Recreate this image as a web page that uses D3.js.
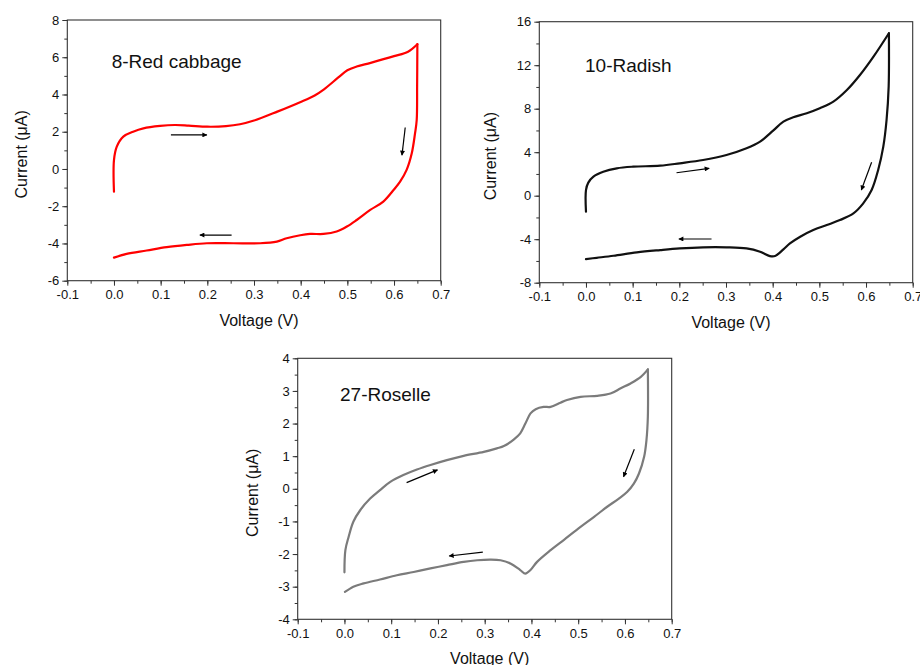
<!DOCTYPE html>
<html>
<head>
<meta charset="utf-8">
<script src="https://cdn.jsdelivr.net/npm/d3@7"></script>
<style>
  html, body { margin: 0; padding: 0; background: #fff; }
  svg { display: block; font-family: "Liberation Sans", Arial, sans-serif; }
</style>
</head>
<body>
<svg id="chart" width="920" height="665"></svg>
<script>
// Cyclic voltammograms, [voltage (V), current (µA)] along the scan
const redCabbage = [
  [0, -1.22], [0, 0.48], [0.006, 1.2], [0.02, 1.74], [0.041, 2.0], [0.063, 2.18],
  [0.099, 2.31], [0.13, 2.36], [0.16, 2.33], [0.2, 2.27], [0.24, 2.3], [0.27, 2.4],
  [0.3, 2.6], [0.35, 3.08], [0.4, 3.6], [0.43, 3.95], [0.45, 4.28], [0.48, 4.9],
  [0.5, 5.3], [0.52, 5.5], [0.55, 5.7], [0.6, 6.06], [0.63, 6.3], [0.65, 6.7],
  [0.6495, 4.5], [0.6486, 2.63], [0.645, 1.91], [0.638, 0.84], [0.627, -0.05],
  [0.613, -0.68], [0.599, -1.13], [0.577, -1.75], [0.549, -2.2], [0.52, -2.74],
  [0.499, -3.09], [0.477, -3.36], [0.449, -3.49], [0.42, -3.49], [0.399, -3.56],
  [0.37, -3.72], [0.349, -3.9], [0.313, -3.99], [0.256, -3.99], [0.199, -3.99],
  [0.156, -4.08], [0.113, -4.2], [0.07, -4.38], [0.027, -4.56], [0, -4.76]
];
const radish = [
  [0, -1.47], [0, 0.52], [0.005, 1.2], [0.016, 1.75], [0.037, 2.2], [0.066, 2.52],
  [0.101, 2.67], [0.159, 2.76], [0.201, 2.98], [0.251, 3.28], [0.301, 3.74],
  [0.344, 4.36], [0.373, 4.97], [0.401, 5.98], [0.423, 6.81], [0.444, 7.21],
  [0.473, 7.58], [0.501, 8.04], [0.53, 8.65], [0.559, 9.72], [0.587, 11.1],
  [0.616, 12.79], [0.649, 14.94], [0.6485, 10.03], [0.644, 6.96], [0.637, 4.51],
  [0.626, 2.36], [0.612, 0.52], [0.594, -0.71], [0.573, -1.63], [0.544, -2.24],
  [0.516, -2.7], [0.487, -3.16], [0.459, -3.77], [0.437, -4.39], [0.423, -4.94],
  [0.405, -5.55], [0.394, -5.55], [0.373, -5.15], [0.344, -4.85], [0.301, -4.75],
  [0.251, -4.75], [0.201, -4.85], [0.159, -5.0], [0.109, -5.21], [0.059, -5.52],
  [0.023, -5.71], [0, -5.83]
];
const roselle = [
  [0, -2.56], [0.002, -1.88], [0.009, -1.47], [0.019, -1.01], [0.034, -0.65],
  [0.055, -0.3], [0.076, -0.04], [0.098, 0.21], [0.126, 0.42], [0.155, 0.59],
  [0.184, 0.73], [0.219, 0.88], [0.255, 1.01], [0.298, 1.13], [0.326, 1.24],
  [0.341, 1.31], [0.362, 1.51], [0.376, 1.7], [0.387, 2.0], [0.398, 2.31],
  [0.409, 2.44], [0.426, 2.51], [0.441, 2.51], [0.462, 2.64], [0.476, 2.72],
  [0.505, 2.82], [0.541, 2.85], [0.569, 2.92], [0.591, 3.08], [0.612, 3.23],
  [0.634, 3.43], [0.649, 3.66], [0.649, 2.21], [0.646, 1.49], [0.641, 0.98],
  [0.63, 0.47], [0.619, 0.16], [0.605, -0.09], [0.587, -0.3], [0.562, -0.55],
  [0.534, -0.86], [0.505, -1.17], [0.469, -1.57], [0.441, -1.88], [0.412, -2.24],
  [0.398, -2.49], [0.387, -2.6], [0.376, -2.49], [0.355, -2.29], [0.334, -2.19],
  [0.312, -2.17], [0.284, -2.19], [0.255, -2.24], [0.219, -2.34], [0.184, -2.44],
  [0.148, -2.55], [0.112, -2.65], [0.076, -2.78], [0.041, -2.9], [0.019, -3.0],
  [0.001, -3.16]
];

// Scan-direction arrows: [from, to] in data units
const redCabbageArrows = [
  [[0.122, 1.83], [0.199, 1.83]],
  [[0.252, -3.55], [0.184, -3.55]],
  [[0.624, 2.23], [0.617, 0.74]]
];
const radishArrows = [
  [[0.194, 2.11], [0.264, 2.52]],
  [[0.269, -3.98], [0.199, -3.98]],
  [[0.612, 3.07], [0.590, 0.52]]
];
const roselleArrows = [
  [[0.133, 0.19], [0.199, 0.58]],
  [[0.296, -1.94], [0.224, -2.06]],
  [[0.620, 1.21], [0.597, 0.37]]
];

const xTicks = [-0.1, 0, 0.1, 0.2, 0.3, 0.4, 0.5, 0.6, 0.7];
const xTickLabels = ["-0.1", "0.0", "0.1", "0.2", "0.3", "0.4", "0.5", "0.6", "0.7"];

const panels = [
  { name: "8-Red cabbage", data: redCabbage, arrows: redCabbageArrows, color: "#ff0000",
    box: { l: 67.3, r: 440.7, t: 20, b: 280.7 }, yDomain: [-6, 8], yMajor: 2, yMinor: 1,
    titleAt: [111.7, 68], xTitleY: 326, yTitleX: 27 },
  { name: "10-Radish", data: radish, arrows: radishArrows, color: "#111111",
    box: { l: 539.3, r: 912.7, t: 21.7, b: 282.7 }, yDomain: [-8, 16], yMajor: 4, yMinor: 2,
    titleAt: [585, 72], xTitleY: 328, yTitleX: 496 },
  { name: "27-Roselle", data: roselle, arrows: roselleArrows, color: "#7b7b7b",
    box: { l: 297.7, r: 671.7, t: 358.3, b: 619.3 }, yDomain: [-4, 4], yMajor: 1, yMinor: 0.5,
    titleAt: [340, 401], xTitleY: 664, yTitleX: 258 }
];

const hyphenInt = d => (d < 0 ? "-" : "") + Math.abs(d);

const svg = d3.select("#chart");

svg.append("defs").append("marker")
  .attr("id", "head")
  .attr("viewBox", "0 0 10 10")
  .attr("refX", 9).attr("refY", 5)
  .attr("markerWidth", 7).attr("markerHeight", 5)
  .attr("markerUnits", "userSpaceOnUse")
  .attr("orient", "auto")
  .append("path").attr("d", "M0,0 L10,5 L0,10 Z").attr("fill", "#000");

panels.forEach(p => {
  const { l, r, t, b } = p.box;
  const x = d3.scaleLinear().domain([-0.1, 0.7]).range([l, r]);
  const y = d3.scaleLinear().domain(p.yDomain).range([b, t]);
  const g = svg.append("g");

  // frame
  g.append("rect").attr("x", l).attr("y", t).attr("width", r - l).attr("height", b - t)
    .attr("fill", "none").attr("stroke", "#333").attr("stroke-width", 1.1);

  // x axis: major ticks with labels, minor ticks between
  const xMinor = d3.range(-0.1, 0.7001, 0.05);
  g.append("g").attr("transform", `translate(0,${b})`)
    .call(d3.axisBottom(x).tickValues(xMinor).tickSize(3).tickFormat(""))
    .call(a => a.select(".domain").remove())
    .call(a => a.selectAll("line").attr("stroke", "#333"));
  g.append("g").attr("transform", `translate(0,${b})`)
    .call(d3.axisBottom(x).tickValues(xTicks).tickSize(5).tickPadding(4)
      .tickFormat((d, i) => xTickLabels[i]))
    .call(a => a.select(".domain").remove())
    .call(a => a.selectAll("line").attr("stroke", "#333"))
    .call(a => a.selectAll("text").attr("font-size", 13).attr("fill", "#111")
      .attr("font-family", "'Liberation Sans', Arial, sans-serif"));

  // y axis
  const [y0, y1] = p.yDomain;
  const yMinorVals = d3.range(y0, y1 + 1e-9, p.yMinor);
  const yMajorVals = d3.range(y0, y1 + 1e-9, p.yMajor);
  g.append("g").attr("transform", `translate(${l},0)`)
    .call(d3.axisLeft(y).tickValues(yMinorVals).tickSize(3).tickFormat(""))
    .call(a => a.select(".domain").remove())
    .call(a => a.selectAll("line").attr("stroke", "#333"));
  g.append("g").attr("transform", `translate(${l},0)`)
    .call(d3.axisLeft(y).tickValues(yMajorVals).tickSize(5).tickPadding(3)
      .tickFormat(hyphenInt))
    .call(a => a.select(".domain").remove())
    .call(a => a.selectAll("line").attr("stroke", "#333"))
    .call(a => a.selectAll("text").attr("font-size", 13).attr("fill", "#111")
      .attr("font-family", "'Liberation Sans', Arial, sans-serif"));

  // axis titles
  g.append("text").attr("x", (l + r) / 2 + 5).attr("y", p.xTitleY)
    .attr("text-anchor", "middle").attr("font-size", 16).attr("fill", "#111")
    .text("Voltage (V)");
  g.append("text")
    .attr("transform", `translate(${p.yTitleX},${(t + b) / 2 + 4}) rotate(-90)`)
    .attr("text-anchor", "middle").attr("font-size", 16).attr("fill", "#111")
    .text("Current (μA)");

  // curve: forward and reverse sweeps drawn as two smooth pieces meeting at the vertex
  const turn = d3.maxIndex(p.data, d => d[0]);
  const line = d3.line().x(d => x(d[0])).y(d => y(d[1])).curve(d3.curveCatmullRom.alpha(0.5));
  [p.data.slice(0, turn + 1), p.data.slice(turn)].forEach(seg => {
    g.append("path").datum(seg).attr("d", line)
      .attr("fill", "none").attr("stroke", p.color).attr("stroke-width", 2.2)
      .attr("stroke-linejoin", "round").attr("stroke-linecap", "round");
  });

  // scan direction arrows
  g.selectAll("line.arrow").data(p.arrows).join("line").attr("class", "arrow")
    .attr("x1", d => x(d[0][0])).attr("y1", d => y(d[0][1]))
    .attr("x2", d => x(d[1][0])).attr("y2", d => y(d[1][1]))
    .attr("stroke", "#000").attr("stroke-width", 1.2)
    .attr("marker-end", "url(#head)");

  // panel label
  g.append("text").attr("x", p.titleAt[0]).attr("y", p.titleAt[1])
    .attr("font-size", 19).attr("fill", "#111").text(p.name);
});
</script>
</body>
</html>
